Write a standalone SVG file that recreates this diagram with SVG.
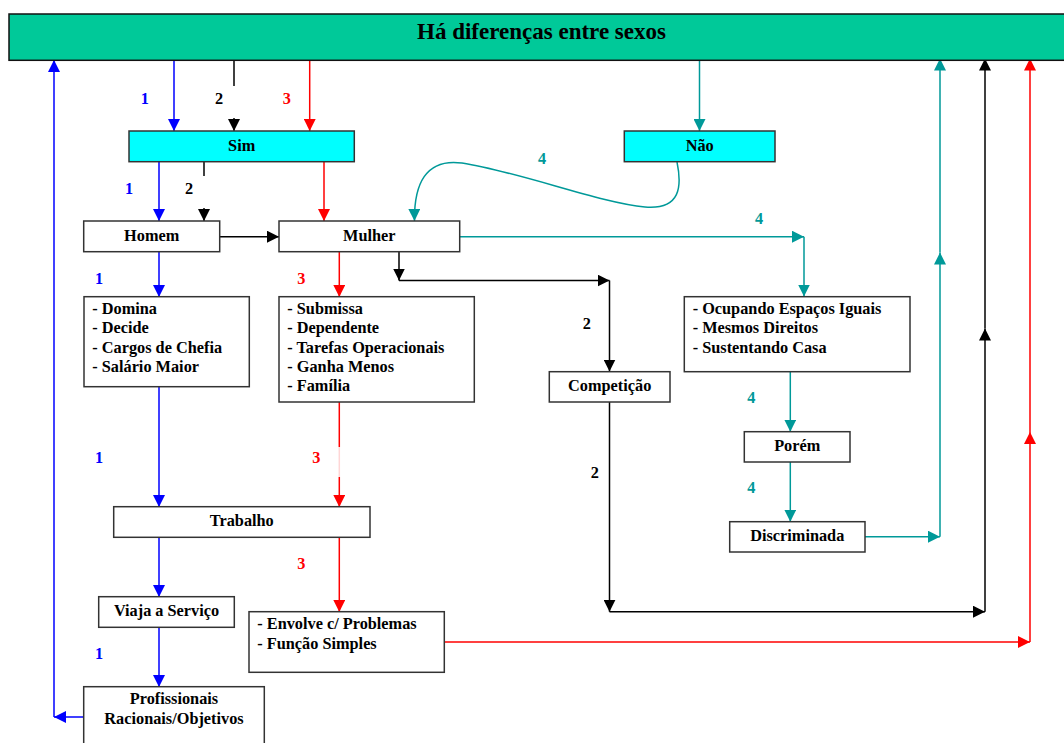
<svg xmlns="http://www.w3.org/2000/svg" width="1064" height="743" viewBox="0 0 1064 743">
<defs>
<style>
text{font-family:"Liberation Serif","Times New Roman",serif;font-weight:bold;font-size:16.3px;fill:#000}
.c{text-anchor:middle}
.box{fill:#fff;stroke:#333;stroke-width:1.5}
.cy{fill:#00ffff;stroke:#333;stroke-width:1.5}
.ln{fill:none;stroke-width:1.5}
.b{stroke:#0000ff}.r{stroke:#ff0000}.k{stroke:#000}.t{stroke:#009999}
.lb{fill:#0000ff}.lr{fill:#ff0000}.lk{fill:#000}.lt{fill:#009999}
</style>
<marker id="ab" markerUnits="userSpaceOnUse" markerWidth="12" markerHeight="12" refX="12" refY="6" orient="auto"><path d="M0,0 L12,6 L0,12 z" fill="#0000ff"/></marker>
<marker id="ar" markerUnits="userSpaceOnUse" markerWidth="12" markerHeight="12" refX="12" refY="6" orient="auto"><path d="M0,0 L12,6 L0,12 z" fill="#ff0000"/></marker>
<marker id="ak" markerUnits="userSpaceOnUse" markerWidth="12" markerHeight="12" refX="12" refY="6" orient="auto"><path d="M0,0 L12,6 L0,12 z" fill="#000"/></marker>
<marker id="at" markerUnits="userSpaceOnUse" markerWidth="12" markerHeight="12" refX="12" refY="6" orient="auto"><path d="M0,0 L12,6 L0,12 z" fill="#009999"/></marker>
</defs>
<rect width="1064" height="743" fill="#fff"/>

<g id="connectors">
<!-- path 1 blue -->
<line class="ln b" x1="174" y1="57" x2="174" y2="131" marker-end="url(#ab)"/>
<line class="ln b" x1="159" y1="162" x2="159" y2="221" marker-end="url(#ab)"/>
<line class="ln b" x1="159" y1="252" x2="159" y2="297" marker-end="url(#ab)"/>
<line class="ln b" x1="159" y1="387" x2="159" y2="507" marker-end="url(#ab)"/>
<line class="ln b" x1="159" y1="537" x2="159" y2="597" marker-end="url(#ab)"/>
<line class="ln b" x1="159" y1="627" x2="159" y2="687" marker-end="url(#ab)"/>
<line class="ln b" x1="84" y1="717" x2="54" y2="717" marker-end="url(#ab)"/>
<line class="ln b" x1="54" y1="717" x2="54" y2="60" marker-end="url(#ab)"/>
<!-- path 2 black -->
<line class="ln k" x1="234" y1="57" x2="234" y2="86"/>
<line class="ln k" x1="234" y1="118" x2="234" y2="131" marker-end="url(#ak)"/>
<line class="ln k" x1="204" y1="162" x2="204" y2="176"/>
<line class="ln k" x1="204" y1="208" x2="204" y2="221" marker-end="url(#ak)"/>
<line class="ln k" x1="219.7" y1="236.7" x2="279" y2="236.7" marker-end="url(#ak)"/>
<line class="ln k" x1="399" y1="252" x2="399" y2="280.5" marker-end="url(#ak)"/>
<line class="ln k" x1="399" y1="280.5" x2="609.5" y2="280.5" marker-end="url(#ak)"/>
<line class="ln k" x1="609.5" y1="280.5" x2="609.5" y2="371.5" marker-end="url(#ak)"/>
<line class="ln k" x1="609.5" y1="402" x2="609.5" y2="611.7" marker-end="url(#ak)"/>
<line class="ln k" x1="609.5" y1="611.7" x2="985" y2="611.7" marker-end="url(#ak)"/>
<line class="ln k" x1="985" y1="611.7" x2="985" y2="328.5" marker-end="url(#ak)"/>
<line class="ln k" x1="985" y1="328.5" x2="985" y2="58.5" marker-end="url(#ak)"/>
<!-- path 3 red -->
<line class="ln r" x1="309.7" y1="57" x2="309.7" y2="131" marker-end="url(#ar)"/>
<line class="ln r" x1="324" y1="162" x2="324" y2="221" marker-end="url(#ar)"/>
<line class="ln r" x1="339.3" y1="252" x2="339.3" y2="297" marker-end="url(#ar)"/>
<line class="ln r" x1="339.3" y1="402" x2="339.3" y2="447"/>
<line class="ln" stroke="#ffd6d6" x1="339.3" y1="447" x2="339.3" y2="477"/>
<line class="ln r" x1="339.3" y1="477" x2="339.3" y2="507" marker-end="url(#ar)"/>
<line class="ln r" x1="339.3" y1="537" x2="339.3" y2="612" marker-end="url(#ar)"/>
<line class="ln r" x1="444.3" y1="642" x2="1030" y2="642" marker-end="url(#ar)"/>
<line class="ln r" x1="1030" y1="642" x2="1030" y2="432" marker-end="url(#ar)"/>
<line class="ln r" x1="1030" y1="432" x2="1030" y2="58.5" marker-end="url(#ar)"/>
<!-- path 4 teal -->
<line class="ln t" x1="699.5" y1="57" x2="699.5" y2="131" marker-end="url(#at)"/>
<path class="ln t" d="M677,162 C682,186 681,210 645,207 C600,203 520,172 462,163 C425,158 414,185 414.5,221" marker-end="url(#at)"/>
<line class="ln t" x1="459.7" y1="236.7" x2="804" y2="236.7" marker-end="url(#at)"/>
<line class="ln t" x1="804" y1="236.7" x2="804" y2="296.5" marker-end="url(#at)"/>
<line class="ln t" x1="790.3" y1="372" x2="790.3" y2="431.7" marker-end="url(#at)"/>
<line class="ln t" x1="790.3" y1="462" x2="790.3" y2="521.7" marker-end="url(#at)"/>
<line class="ln t" x1="865" y1="536.7" x2="940" y2="536.7" marker-end="url(#at)"/>
<line class="ln t" x1="940" y1="536.7" x2="940" y2="252.5" marker-end="url(#at)"/>
<line class="ln t" x1="940" y1="252.5" x2="940" y2="58.5" marker-end="url(#at)"/>
<!-- labels -->
<text class="lb" x="140.7" y="104">1</text>
<text class="lk" x="215" y="104">2</text>
<text class="lr" x="282.7" y="104">3</text>
<text class="lb" x="125" y="194">1</text>
<text class="lk" x="185" y="194">2</text>
<text class="lt" x="538" y="164">4</text>
<text class="lt" x="755" y="224">4</text>
<text class="lb" x="95" y="284">1</text>
<text class="lr" x="297.3" y="284">3</text>
<text class="lk" x="582.7" y="329">2</text>
<text class="lt" x="747.3" y="403.3">4</text>
<text class="lb" x="95" y="463.3">1</text>
<text class="lr" x="312.3" y="463.3">3</text>
<text class="lk" x="590.7" y="478.3">2</text>
<text class="lt" x="747.3" y="493.3">4</text>
<text class="lr" x="297.3" y="569.3">3</text>
<text class="lb" x="95" y="659">1</text>
</g>

<g id="banner">
<rect x="9" y="14" width="1062" height="46.3" fill="#00c999" stroke="#111" stroke-width="1.5"/>
<text class="c" x="541.5" y="39" style="font-size:23px">Há diferenças entre sexos</text>
</g>
<g id="sim"><rect class="cy" x="129" y="131" width="225.3" height="30.7"/><text class="c" x="241.7" y="150.5">Sim</text></g>
<g id="nao"><rect class="cy" x="624.3" y="131" width="150.7" height="30.7"/><text class="c" x="699.7" y="150.5">Não</text></g>
<g id="homem"><rect class="box" x="83.7" y="221" width="136" height="30.7"/><text class="c" x="151.7" y="240.5">Homem</text></g>
<g id="mulher"><rect class="box" x="279" y="221" width="180.7" height="30.7"/><text class="c" x="369.3" y="240.5">Mulher</text></g>
<g id="domina"><rect class="box" x="84" y="296.7" width="165.3" height="90"/>
<text x="92.3" y="314">- Domina</text><text x="92.3" y="333.3">- Decide</text><text x="92.3" y="352.6">- Cargos de Chefia</text><text x="92.3" y="371.9">- Salário Maior</text></g>
<g id="submissa"><rect class="box" x="279" y="296.7" width="195.3" height="105.3"/>
<text x="287.3" y="314">- Submissa</text><text x="287.3" y="333.3">- Dependente</text><text x="287.3" y="352.6">- Tarefas Operacionais</text><text x="287.3" y="371.9">- Ganha Menos</text><text x="287.3" y="391.2">- Família</text></g>
<g id="ocupando"><rect class="box" x="684.3" y="296.7" width="225.7" height="75"/>
<text x="692.7" y="314">- Ocupando Espaços Iguais</text><text x="692.7" y="333.3">- Mesmos Direitos</text><text x="692.7" y="352.6">- Sustentando Casa</text></g>
<g id="competicao"><rect class="box" x="549.3" y="371.7" width="120.7" height="30.3"/><text class="c" x="609.7" y="390.5">Competição</text></g>
<g id="porem"><rect class="box" x="744.3" y="431.7" width="105.7" height="30.3"/><text class="c" x="797.2" y="450.5">Porém</text></g>
<g id="discriminada"><rect class="box" x="729.7" y="521.7" width="135.3" height="30.3"/><text class="c" x="797.3" y="540.5">Discriminada</text></g>
<g id="trabalho"><rect class="box" x="113.7" y="506.7" width="256.3" height="30.6"/><text class="c" x="241.8" y="525.5">Trabalho</text></g>
<g id="viaja"><rect class="box" x="98.7" y="596.7" width="135.6" height="30.6"/><text class="c" x="166.5" y="615.5">Viaja a Serviço</text></g>
<g id="envolve"><rect class="box" x="249" y="611.7" width="195.3" height="60.6"/>
<text x="257.3" y="628.7">- Envolve c/ Problemas</text><text x="257.3" y="649">- Função Simples</text></g>
<g id="profissionais"><rect class="box" x="83.7" y="686.7" width="180.6" height="70"/>
<text class="c" x="174" y="704">Profissionais</text><text class="c" x="174" y="724">Racionais/Objetivos</text></g>
</svg>
